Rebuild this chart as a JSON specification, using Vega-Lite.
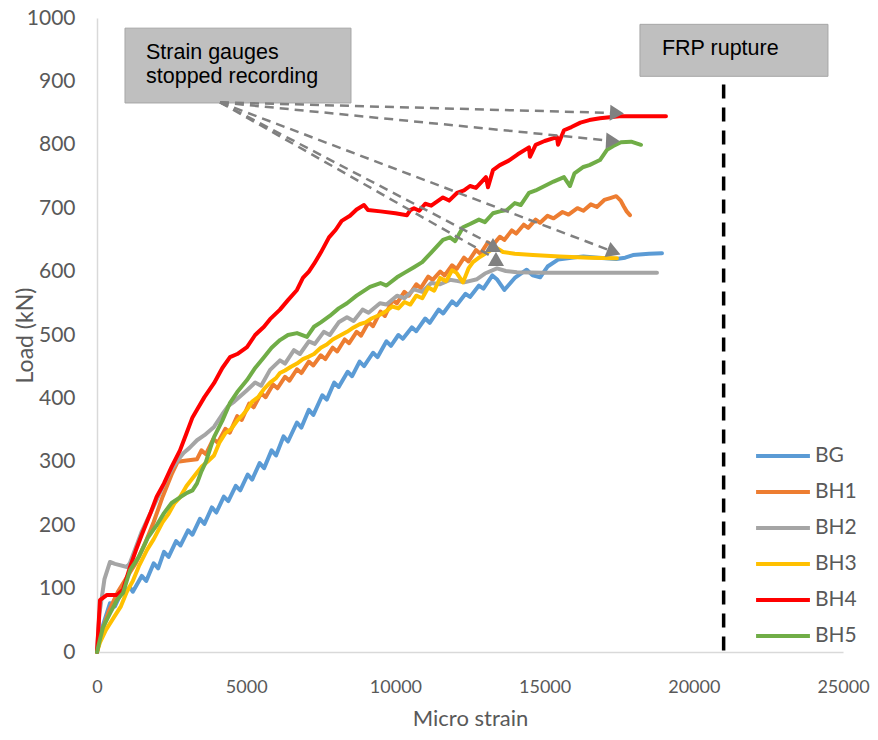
{
  "$schema": "https://vega.github.io/schema/vega-lite/v6.json",
  "width": 746,
  "height": 634,
  "autosize": {"type": "none"},
  "padding": {"left": 97, "top": 18, "right": 35, "bottom": 88},
  "background": "white",
  "config": {
    "view": {"stroke": null},
    "font": "Lato",
    "axis": {"grid": false, "ticks": false, "domainColor": "#D9D9D9", "domainWidth": 1.5, "labelColor": "#595959", "titleColor": "#595959", "titleFontWeight": "normal", "labelFont": "Lato", "titleFont": "Lato"},
    "legend": {"labelFont": "Lato", "labelColor": "#595959"}
  },
  "datasets": {
    "curves": [
      {"s":"BG","x":0,"y":0},{"s":"BG","x":150,"y":35},{"s":"BG","x":436,"y":77},{"s":"BG","x":600,"y":72},{"s":"BG","x":800,"y":92},{"s":"BG","x":1106,"y":102},{"s":"BG","x":1200,"y":95},{"s":"BG","x":1500,"y":120},{"s":"BG","x":1650,"y":112},{"s":"BG","x":1900,"y":140},{"s":"BG","x":2050,"y":132},{"s":"BG","x":2245,"y":158},{"s":"BG","x":2400,"y":150},{"s":"BG","x":2650,"y":175},{"s":"BG","x":2800,"y":168},{"s":"BG","x":3050,"y":192},{"s":"BG","x":3200,"y":185},{"s":"BG","x":3450,"y":210},{"s":"BG","x":3600,"y":202},{"s":"BG","x":3850,"y":228},{"s":"BG","x":4000,"y":220},{"s":"BG","x":4250,"y":245},{"s":"BG","x":4400,"y":238},{"s":"BG","x":4650,"y":262},{"s":"BG","x":4800,"y":255},{"s":"BG","x":5050,"y":280},{"s":"BG","x":5200,"y":272},{"s":"BG","x":5450,"y":298},{"s":"BG","x":5600,"y":290},{"s":"BG","x":5850,"y":318},{"s":"BG","x":6000,"y":310},{"s":"BG","x":6250,"y":340},{"s":"BG","x":6400,"y":332},{"s":"BG","x":6700,"y":362},{"s":"BG","x":6850,"y":354},{"s":"BG","x":7100,"y":382},{"s":"BG","x":7250,"y":374},{"s":"BG","x":7550,"y":405},{"s":"BG","x":7700,"y":398},{"s":"BG","x":7950,"y":425},{"s":"BG","x":8100,"y":418},{"s":"BG","x":8400,"y":442},{"s":"BG","x":8550,"y":435},{"s":"BG","x":8800,"y":458},{"s":"BG","x":8950,"y":451},{"s":"BG","x":9250,"y":472},{"s":"BG","x":9400,"y":465},{"s":"BG","x":9700,"y":490},{"s":"BG","x":9850,"y":483},{"s":"BG","x":10100,"y":500},{"s":"BG","x":10250,"y":494},{"s":"BG","x":10550,"y":512},{"s":"BG","x":10700,"y":506},{"s":"BG","x":11000,"y":526},{"s":"BG","x":11150,"y":519},{"s":"BG","x":11450,"y":540},{"s":"BG","x":11600,"y":534},{"s":"BG","x":11900,"y":553},{"s":"BG","x":12050,"y":547},{"s":"BG","x":12350,"y":565},{"s":"BG","x":12500,"y":560},{"s":"BG","x":12800,"y":578},{"s":"BG","x":12950,"y":573},{"s":"BG","x":13250,"y":594},{"s":"BG","x":13400,"y":588},{"s":"BG","x":13650,"y":571},{"s":"BG","x":14000,"y":590},{"s":"BG","x":14400,"y":603},{"s":"BG","x":14600,"y":594},{"s":"BG","x":14850,"y":591},{"s":"BG","x":15100,"y":608},{"s":"BG","x":15450,"y":619},{"s":"BG","x":15900,"y":622},{"s":"BG","x":16300,"y":624},{"s":"BG","x":16800,"y":622},{"s":"BG","x":17400,"y":620},{"s":"BG","x":17700,"y":622},{"s":"BG","x":17961,"y":626},{"s":"BG","x":18500,"y":628},{"s":"BG","x":18933,"y":629},
      {"s":"BH1","x":0,"y":0},{"s":"BH1","x":150,"y":30},{"s":"BH1","x":400,"y":65},{"s":"BH1","x":700,"y":95},{"s":"BH1","x":1000,"y":118},{"s":"BH1","x":1300,"y":140},{"s":"BH1","x":1600,"y":170},{"s":"BH1","x":1900,"y":205},{"s":"BH1","x":2200,"y":245},{"s":"BH1","x":2500,"y":280},{"s":"BH1","x":2700,"y":300},{"s":"BH1","x":3000,"y":302},{"s":"BH1","x":3350,"y":304},{"s":"BH1","x":3500,"y":318},{"s":"BH1","x":3650,"y":312},{"s":"BH1","x":3900,"y":336},{"s":"BH1","x":4050,"y":330},{"s":"BH1","x":4300,"y":352},{"s":"BH1","x":4450,"y":346},{"s":"BH1","x":4700,"y":372},{"s":"BH1","x":4850,"y":366},{"s":"BH1","x":5100,"y":392},{"s":"BH1","x":5250,"y":386},{"s":"BH1","x":5500,"y":408},{"s":"BH1","x":5650,"y":402},{"s":"BH1","x":5900,"y":422},{"s":"BH1","x":6050,"y":416},{"s":"BH1","x":6300,"y":434},{"s":"BH1","x":6450,"y":428},{"s":"BH1","x":6700,"y":446},{"s":"BH1","x":6850,"y":440},{"s":"BH1","x":7100,"y":458},{"s":"BH1","x":7250,"y":452},{"s":"BH1","x":7500,"y":468},{"s":"BH1","x":7650,"y":462},{"s":"BH1","x":7900,"y":480},{"s":"BH1","x":8050,"y":474},{"s":"BH1","x":8300,"y":493},{"s":"BH1","x":8450,"y":487},{"s":"BH1","x":8700,"y":505},{"s":"BH1","x":8850,"y":499},{"s":"BH1","x":9100,"y":520},{"s":"BH1","x":9250,"y":514},{"s":"BH1","x":9500,"y":537},{"s":"BH1","x":9650,"y":530},{"s":"BH1","x":9900,"y":555},{"s":"BH1","x":10050,"y":550},{"s":"BH1","x":10300,"y":568},{"s":"BH1","x":10450,"y":562},{"s":"BH1","x":10700,"y":580},{"s":"BH1","x":10850,"y":574},{"s":"BH1","x":11100,"y":592},{"s":"BH1","x":11250,"y":587},{"s":"BH1","x":11500,"y":600},{"s":"BH1","x":11650,"y":594},{"s":"BH1","x":11900,"y":610},{"s":"BH1","x":12050,"y":604},{"s":"BH1","x":12300,"y":622},{"s":"BH1","x":12450,"y":616},{"s":"BH1","x":12700,"y":634},{"s":"BH1","x":12850,"y":628},{"s":"BH1","x":13100,"y":646},{"s":"BH1","x":13250,"y":641},{"s":"BH1","x":13500,"y":655},{"s":"BH1","x":13650,"y":650},{"s":"BH1","x":13900,"y":665},{"s":"BH1","x":14050,"y":660},{"s":"BH1","x":14300,"y":674},{"s":"BH1","x":14450,"y":669},{"s":"BH1","x":14700,"y":682},{"s":"BH1","x":14850,"y":677},{"s":"BH1","x":15100,"y":688},{"s":"BH1","x":15300,"y":684},{"s":"BH1","x":15600,"y":694},{"s":"BH1","x":15800,"y":690},{"s":"BH1","x":16100,"y":700},{"s":"BH1","x":16300,"y":696},{"s":"BH1","x":16550,"y":706},{"s":"BH1","x":16750,"y":702},{"s":"BH1","x":17000,"y":713},{"s":"BH1","x":17200,"y":716},{"s":"BH1","x":17400,"y":719},{"s":"BH1","x":17550,"y":712},{"s":"BH1","x":17650,"y":703},{"s":"BH1","x":17750,"y":695},{"s":"BH1","x":17860,"y":689},
      {"s":"BH2","x":0,"y":0},{"s":"BH2","x":80,"y":60},{"s":"BH2","x":250,"y":115},{"s":"BH2","x":436,"y":142},{"s":"BH2","x":600,"y":139},{"s":"BH2","x":1005,"y":134},{"s":"BH2","x":1100,"y":140},{"s":"BH2","x":1300,"y":165},{"s":"BH2","x":1500,"y":190},{"s":"BH2","x":1700,"y":210},{"s":"BH2","x":1900,"y":230},{"s":"BH2","x":2100,"y":250},{"s":"BH2","x":2300,"y":270},{"s":"BH2","x":2500,"y":288},{"s":"BH2","x":2700,"y":302},{"s":"BH2","x":2900,"y":314},{"s":"BH2","x":3100,"y":322},{"s":"BH2","x":3351,"y":334},{"s":"BH2","x":3600,"y":342},{"s":"BH2","x":3921,"y":355},{"s":"BH2","x":4200,"y":375},{"s":"BH2","x":4400,"y":388},{"s":"BH2","x":4600,"y":395},{"s":"BH2","x":5027,"y":413},{"s":"BH2","x":5300,"y":425},{"s":"BH2","x":5500,"y":420},{"s":"BH2","x":5800,"y":445},{"s":"BH2","x":6132,"y":460},{"s":"BH2","x":6300,"y":455},{"s":"BH2","x":6600,"y":476},{"s":"BH2","x":6800,"y":470},{"s":"BH2","x":7100,"y":490},{"s":"BH2","x":7300,"y":486},{"s":"BH2","x":7600,"y":505},{"s":"BH2","x":7800,"y":500},{"s":"BH2","x":8100,"y":520},{"s":"BH2","x":8378,"y":528},{"s":"BH2","x":8600,"y":522},{"s":"BH2","x":8900,"y":540},{"s":"BH2","x":9100,"y":535},{"s":"BH2","x":9483,"y":550},{"s":"BH2","x":9700,"y":548},{"s":"BH2","x":10053,"y":562},{"s":"BH2","x":10300,"y":558},{"s":"BH2","x":10623,"y":572},{"s":"BH2","x":10900,"y":568},{"s":"BH2","x":11200,"y":582},{"s":"BH2","x":11500,"y":580},{"s":"BH2","x":11829,"y":587},{"s":"BH2","x":12100,"y":585},{"s":"BH2","x":12300,"y":583},{"s":"BH2","x":12734,"y":588},{"s":"BH2","x":13000,"y":597},{"s":"BH2","x":13404,"y":605},{"s":"BH2","x":13700,"y":601},{"s":"BH2","x":14074,"y":599},{"s":"BH2","x":15000,"y":598},{"s":"BH2","x":16000,"y":598},{"s":"BH2","x":17000,"y":598},{"s":"BH2","x":18766,"y":598},
      {"s":"BH3","x":0,"y":0},{"s":"BH3","x":100,"y":15},{"s":"BH3","x":300,"y":35},{"s":"BH3","x":570,"y":55},{"s":"BH3","x":800,"y":72},{"s":"BH3","x":1000,"y":95},{"s":"BH3","x":1200,"y":112},{"s":"BH3","x":1400,"y":135},{"s":"BH3","x":1676,"y":161},{"s":"BH3","x":1900,"y":178},{"s":"BH3","x":2200,"y":205},{"s":"BH3","x":2400,"y":218},{"s":"BH3","x":2600,"y":235},{"s":"BH3","x":2781,"y":244},{"s":"BH3","x":3000,"y":262},{"s":"BH3","x":3300,"y":280},{"s":"BH3","x":3500,"y":292},{"s":"BH3","x":3700,"y":300},{"s":"BH3","x":3921,"y":310},{"s":"BH3","x":4100,"y":330},{"s":"BH3","x":4300,"y":345},{"s":"BH3","x":4500,"y":352},{"s":"BH3","x":4700,"y":365},{"s":"BH3","x":4900,"y":375},{"s":"BH3","x":5027,"y":382},{"s":"BH3","x":5200,"y":395},{"s":"BH3","x":5400,"y":402},{"s":"BH3","x":5600,"y":415},{"s":"BH3","x":5800,"y":425},{"s":"BH3","x":6000,"y":432},{"s":"BH3","x":6132,"y":440},{"s":"BH3","x":6300,"y":444},{"s":"BH3","x":6500,"y":450},{"s":"BH3","x":6700,"y":455},{"s":"BH3","x":6900,"y":462},{"s":"BH3","x":7100,"y":466},{"s":"BH3","x":7272,"y":470},{"s":"BH3","x":7500,"y":480},{"s":"BH3","x":7700,"y":485},{"s":"BH3","x":7900,"y":493},{"s":"BH3","x":8100,"y":498},{"s":"BH3","x":8378,"y":505},{"s":"BH3","x":8600,"y":512},{"s":"BH3","x":8800,"y":517},{"s":"BH3","x":9000,"y":520},{"s":"BH3","x":9200,"y":526},{"s":"BH3","x":9483,"y":532},{"s":"BH3","x":9700,"y":538},{"s":"BH3","x":9900,"y":545},{"s":"BH3","x":10100,"y":542},{"s":"BH3","x":10300,"y":552},{"s":"BH3","x":10500,"y":548},{"s":"BH3","x":10700,"y":562},{"s":"BH3","x":10900,"y":558},{"s":"BH3","x":11100,"y":575},{"s":"BH3","x":11300,"y":570},{"s":"BH3","x":11500,"y":590},{"s":"BH3","x":11700,"y":585},{"s":"BH3","x":11900,"y":602},{"s":"BH3","x":12050,"y":598},{"s":"BH3","x":12265,"y":583},{"s":"BH3","x":12450,"y":605},{"s":"BH3","x":12600,"y":615},{"s":"BH3","x":12800,"y":622},{"s":"BH3","x":12935,"y":626},{"s":"BH3","x":13200,"y":634},{"s":"BH3","x":13404,"y":637},{"s":"BH3","x":13605,"y":631},{"s":"BH3","x":14000,"y":628},{"s":"BH3","x":14610,"y":626},{"s":"BH3","x":15500,"y":624},{"s":"BH3","x":16500,"y":622},{"s":"BH3","x":17425,"y":621},
      {"s":"BH4","x":0,"y":0},{"s":"BH4","x":50,"y":40},{"s":"BH4","x":100,"y":82},{"s":"BH4","x":335,"y":90},{"s":"BH4","x":670,"y":90},{"s":"BH4","x":871,"y":98},{"s":"BH4","x":1106,"y":134},{"s":"BH4","x":1300,"y":160},{"s":"BH4","x":1500,"y":185},{"s":"BH4","x":1800,"y":220},{"s":"BH4","x":2000,"y":245},{"s":"BH4","x":2245,"y":266},{"s":"BH4","x":2500,"y":292},{"s":"BH4","x":2781,"y":318},{"s":"BH4","x":3000,"y":345},{"s":"BH4","x":3200,"y":370},{"s":"BH4","x":3351,"y":382},{"s":"BH4","x":3600,"y":402},{"s":"BH4","x":3921,"y":424},{"s":"BH4","x":4200,"y":448},{"s":"BH4","x":4457,"y":465},{"s":"BH4","x":4700,"y":470},{"s":"BH4","x":5027,"y":481},{"s":"BH4","x":5300,"y":500},{"s":"BH4","x":5596,"y":513},{"s":"BH4","x":5800,"y":525},{"s":"BH4","x":6132,"y":540},{"s":"BH4","x":6400,"y":555},{"s":"BH4","x":6702,"y":571},{"s":"BH4","x":6900,"y":590},{"s":"BH4","x":7100,"y":600},{"s":"BH4","x":7272,"y":612},{"s":"BH4","x":7500,"y":630},{"s":"BH4","x":7775,"y":654},{"s":"BH4","x":8000,"y":666},{"s":"BH4","x":8200,"y":680},{"s":"BH4","x":8478,"y":688},{"s":"BH4","x":8700,"y":698},{"s":"BH4","x":8947,"y":705},{"s":"BH4","x":9081,"y":697},{"s":"BH4","x":9500,"y":695},{"s":"BH4","x":10000,"y":692},{"s":"BH4","x":10388,"y":689},{"s":"BH4","x":10500,"y":697},{"s":"BH4","x":10623,"y":700},{"s":"BH4","x":10800,"y":696},{"s":"BH4","x":11000,"y":707},{"s":"BH4","x":11200,"y":704},{"s":"BH4","x":11594,"y":717},{"s":"BH4","x":11800,"y":712},{"s":"BH4","x":12063,"y":724},{"s":"BH4","x":12300,"y":728},{"s":"BH4","x":12500,"y":735},{"s":"BH4","x":12700,"y":732},{"s":"BH4","x":13035,"y":749},{"s":"BH4","x":13103,"y":733},{"s":"BH4","x":13270,"y":760},{"s":"BH4","x":13500,"y":768},{"s":"BH4","x":13800,"y":775},{"s":"BH4","x":14100,"y":785},{"s":"BH4","x":14476,"y":796},{"s":"BH4","x":14509,"y":781},{"s":"BH4","x":14700,"y":800},{"s":"BH4","x":15000,"y":806},{"s":"BH4","x":15415,"y":812},{"s":"BH4","x":15450,"y":800},{"s":"BH4","x":15649,"y":823},{"s":"BH4","x":15900,"y":828},{"s":"BH4","x":16200,"y":835},{"s":"BH4","x":16500,"y":839},{"s":"BH4","x":16855,"y":842},{"s":"BH4","x":17500,"y":845},{"s":"BH4","x":18062,"y":845},{"s":"BH4","x":19067,"y":845},
      {"s":"BH5","x":0,"y":0},{"s":"BH5","x":100,"y":20},{"s":"BH5","x":201,"y":39},{"s":"BH5","x":436,"y":61},{"s":"BH5","x":670,"y":82},{"s":"BH5","x":871,"y":93},{"s":"BH5","x":1106,"y":129},{"s":"BH5","x":1400,"y":150},{"s":"BH5","x":1700,"y":180},{"s":"BH5","x":2000,"y":200},{"s":"BH5","x":2245,"y":219},{"s":"BH5","x":2500,"y":235},{"s":"BH5","x":2781,"y":244},{"s":"BH5","x":3016,"y":251},{"s":"BH5","x":3200,"y":255},{"s":"BH5","x":3351,"y":266},{"s":"BH5","x":3500,"y":285},{"s":"BH5","x":3650,"y":300},{"s":"BH5","x":3800,"y":322},{"s":"BH5","x":3921,"y":339},{"s":"BH5","x":4200,"y":365},{"s":"BH5","x":4457,"y":393},{"s":"BH5","x":4700,"y":410},{"s":"BH5","x":5027,"y":429},{"s":"BH5","x":5300,"y":448},{"s":"BH5","x":5596,"y":465},{"s":"BH5","x":5850,"y":480},{"s":"BH5","x":6132,"y":492},{"s":"BH5","x":6400,"y":500},{"s":"BH5","x":6702,"y":503},{"s":"BH5","x":7037,"y":497},{"s":"BH5","x":7272,"y":513},{"s":"BH5","x":7500,"y":520},{"s":"BH5","x":7800,"y":530},{"s":"BH5","x":8100,"y":542},{"s":"BH5","x":8378,"y":550},{"s":"BH5","x":8700,"y":562},{"s":"BH5","x":9148,"y":576},{"s":"BH5","x":9500,"y":582},{"s":"BH5","x":9700,"y":578},{"s":"BH5","x":10053,"y":591},{"s":"BH5","x":10300,"y":598},{"s":"BH5","x":10623,"y":607},{"s":"BH5","x":10900,"y":615},{"s":"BH5","x":11200,"y":630},{"s":"BH5","x":11400,"y":640},{"s":"BH5","x":11594,"y":650},{"s":"BH5","x":11829,"y":654},{"s":"BH5","x":12000,"y":648},{"s":"BH5","x":12265,"y":670},{"s":"BH5","x":12500,"y":675},{"s":"BH5","x":12800,"y":682},{"s":"BH5","x":13000,"y":678},{"s":"BH5","x":13270,"y":692},{"s":"BH5","x":13500,"y":695},{"s":"BH5","x":13739,"y":697},{"s":"BH5","x":14000,"y":708},{"s":"BH5","x":14200,"y":705},{"s":"BH5","x":14476,"y":724},{"s":"BH5","x":14700,"y":728},{"s":"BH5","x":15000,"y":735},{"s":"BH5","x":15300,"y":742},{"s":"BH5","x":15649,"y":749},{"s":"BH5","x":15850,"y":735},{"s":"BH5","x":16000,"y":755},{"s":"BH5","x":16300,"y":765},{"s":"BH5","x":16500,"y":768},{"s":"BH5","x":16855,"y":776},{"s":"BH5","x":17090,"y":792},{"s":"BH5","x":17300,"y":798},{"s":"BH5","x":17559,"y":804},{"s":"BH5","x":17900,"y":805},{"s":"BH5","x":18229,"y":800}
    ],
    "boxes": [
      {"x": 938, "x2": 8512, "y": 984, "y2": 866},
      {"x": 18196, "x2": 24496, "y": 990, "y2": 908}
    ],
    "notes": [
      {"x": 1642, "y": 935, "text": "Strain gauges"},
      {"x": 1642, "y": 897, "text": "stopped recording"},
      {"x": 18933, "y": 941, "text": "FRP rupture"}
    ],
    "frp": [{"x": 21000, "y": 895, "y2": 0}],
    "arrows": [
      {"id": 1, "x": 4122, "y": 867, "x2": 17425, "y2": 850},
      {"id": 2, "x": 4122, "y": 867, "x2": 17292, "y2": 806},
      {"id": 3, "x": 4122, "y": 867, "x2": 17325, "y2": 631},
      {"id": 4, "x": 4122, "y": 867, "x2": 13270, "y2": 642},
      {"id": 5, "x": 4122, "y": 867, "x2": 13370, "y2": 620}
    ],
    "heads": [
      {"id": 1, "x": 17425, "y": 850},
      {"id": 2, "x": 17292, "y": 806},
      {"id": 3, "x": 17325, "y": 631},
      {"id": 4, "x": 13270, "y": 642},
      {"id": 5, "x": 13370, "y": 620}
    ]
  },
  "encoding": {
    "x": {"field": "x", "type": "quantitative", "scale": {"domain": [0, 25000], "nice": false, "zero": false},
      "axis": {"title": "Micro strain", "values": [0, 5000, 10000, 15000, 20000, 25000], "format": "d", "labelFontSize": 18, "labelPadding": 26, "titleFontSize": 22, "titlePadding": 12, "labelFlush": false}},
    "y": {"field": "y", "type": "quantitative", "scale": {"domain": [0, 1000], "nice": false},
      "axis": {"title": "Load (kN)", "values": [0,100,200,300,400,500,600,700,800,900,1000], "format": "d", "labelFontSize": 21, "labelPadding": 22, "titleFontSize": 23, "titlePadding": -11}}
  },
  "layer": [
    {
      "data": {"name": "boxes"},
      "mark": {"type": "rect", "fill": "#BFBFBF", "stroke": "#A6A6A6", "strokeWidth": 1},
      "encoding": {"x2": {"field": "x2"}, "y2": {"field": "y2"}}
    },
    {
      "data": {"name": "notes"},
      "mark": {"type": "text", "align": "left", "baseline": "alphabetic", "font": "Liberation Sans", "fontSize": 21.5, "color": "#000000"},
      "encoding": {"text": {"field": "text"}}
    },
    {
      "data": {"name": "frp"},
      "mark": {"type": "rule", "color": "#000000", "strokeWidth": 3.5, "strokeDash": [14, 9]},
      "encoding": {"y2": {"field": "y2"}}
    },
    {
      "data": {"name": "curves"},
      "mark": {"type": "line", "strokeWidth": 4, "strokeJoin": "round", "strokeCap": "round"},
      "encoding": {
        "color": {"field": "s", "type": "nominal",
          "scale": {"domain": ["BG","BH1","BH2","BH3","BH4","BH5"], "range": ["#5B9BD5","#ED7D31","#A5A5A5","#FFC000","#FF0000","#70AD47"]},
          "legend": {"title": null, "orient": "none", "legendX": 657, "legendY": 428, "padding": 0, "symbolType": "stroke", "symbolSize": 2900, "symbolStrokeWidth": 4, "labelFontSize": 21, "clipHeight": 20, "rowPadding": 15, "labelOffset": 3}},
        "order": {"value": null}
      }
    },
    {
      "data": {"name": "arrows"},
      "mark": {"type": "rule", "color": "#808080", "strokeWidth": 2.5, "strokeDash": [9, 6]},
      "encoding": {"x2": {"field": "x2"}, "y2": {"field": "y2"}}
    },
    {
      "data": {"name": "heads"},
      "transform": [{"filter": "datum.id <= 2"}],
      "mark": {"type": "point", "shape": "triangle-right", "angle": 3, "filled": true, "color": "#808080", "opacity": 1, "size": 260}
    },
    {
      "data": {"name": "heads"},
      "transform": [{"filter": "datum.id == 3"}],
      "mark": {"type": "point", "shape": "triangle-right", "angle": 21, "filled": true, "color": "#808080", "opacity": 1, "size": 260}
    },
    {
      "data": {"name": "heads"},
      "transform": [{"filter": "datum.id >= 4"}],
      "mark": {"type": "point", "shape": "triangle-up", "filled": true, "color": "#808080", "opacity": 1, "size": 260}
    }
  ]
}
